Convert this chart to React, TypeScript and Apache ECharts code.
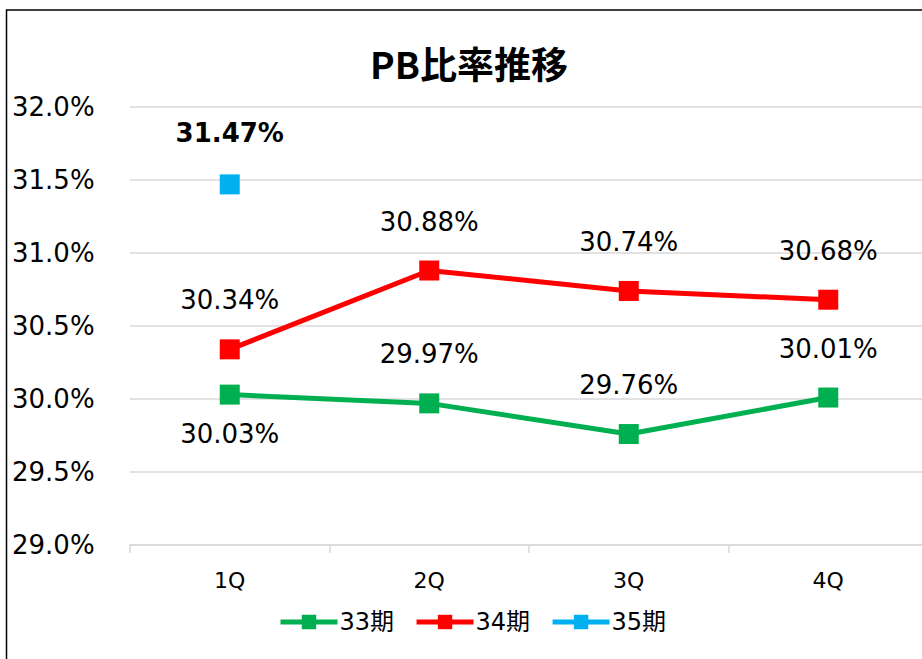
import React, { useEffect, useRef } from "react";
import * as echarts from "echarts";

const categories = ["1Q", "2Q", "3Q", "4Q"];
const series33 = [30.03, 29.97, 29.76, 30.01];
const series34 = [30.34, 30.88, 30.74, 30.68];
const series35: (number | null)[] = [31.47, null, null, null];
const seriesNames = ["33期", "34期", "35期"];
const colors = ["#00B050", "#FF0000", "#00B0F0"];
const yMin = 29;
const yMax = 32;
const yInterval = 0.5;

const FONT = "Verdana, 'DejaVu Sans', sans-serif";

export default function App() {
  const ref = useRef<HTMLDivElement>(null);
  useEffect(() => {
    if (!ref.current) return;
    const chart = echarts.init(ref.current, undefined, { renderer: "svg" });
    const labelBase = {
      show: true,
      color: "#000",
      fontSize: 26,
      fontFamily: FONT,
      formatter: (p: any) => p.value.toFixed(2) + "%",
    };
    chart.setOption({
      animation: false,
      backgroundColor: "#fff",
      title: {
        text: "PB比率推移",
        left: 464,
        textAlign: "center",
        top: 39,
        textStyle: {
          fontSize: 37,
          fontWeight: "bold",
          color: "#000",
          fontFamily: "'Noto Sans CJK JP', sans-serif",
        },
      },
      legend: {
        data: seriesNames,
        left: 273,
        top: 605,
        itemWidth: 57,
        itemHeight: 18,
        itemGap: 20,
        lineStyle: { width: 5 },
        textStyle: { fontSize: 24, color: "#000", fontFamily: "'DejaVu Sans', 'Noto Sans CJK JP', sans-serif", padding: [0, 0, 0, -3] },
      },
      graphic: [
        {
          type: "rect",
          shape: { x: 6.5, y: 10, width: 1000, height: 1000 },
          style: { fill: "none", stroke: "#000", lineWidth: 1.5 },
          silent: true,
        },
      ],
      grid: { left: 130, right: 12, top: 107, bottom: 114 },
      xAxis: {
        type: "category",
        data: categories,
        boundaryGap: true,
        axisLine: { lineStyle: { color: "#d9d9d9", width: 1.5 } },
        axisTick: { show: true, length: 8, lineStyle: { color: "#d9d9d9", width: 1.5 } },
        axisLabel: { fontSize: 22, color: "#000", fontFamily: FONT, margin: 24 },
      },
      yAxis: {
        type: "value",
        min: yMin,
        max: yMax,
        interval: yInterval,
        axisLine: { show: false },
        axisTick: { show: false },
        splitLine: { lineStyle: { color: "#d9d9d9", width: 1.5 } },
        axisLabel: {
          fontSize: 26,
          color: "#000",
          fontFamily: FONT,
          align: "left",
          margin: 118,
          padding: [0, 0, 6, 0],
          formatter: (v: number) => v.toFixed(1) + "%",
        },
      },
      series: [
        {
          name: seriesNames[0],
          type: "line",
          data: series33.map((v, i) =>
            i === 0
              ? { value: v, label: { position: "bottom", distance: 16 } }
              : { value: v }
          ),
          symbol: "rect",
          symbolSize: 20,
          lineStyle: { width: 5, color: colors[0] },
          itemStyle: { color: colors[0] },
          label: { ...labelBase, position: "top", distance: 26 },
        },
        {
          name: seriesNames[1],
          type: "line",
          data: series34,
          symbol: "rect",
          symbolSize: 20,
          lineStyle: { width: 5, color: colors[1] },
          itemStyle: { color: colors[1] },
          label: { ...labelBase, position: "top", distance: 26 },
        },
        {
          name: seriesNames[2],
          type: "line",
          data: series35,
          symbol: "rect",
          symbolSize: 20,
          lineStyle: { width: 5, color: colors[2] },
          itemStyle: { color: colors[2] },
          label: { ...labelBase, fontWeight: "bold", position: "top", distance: 28 },
        },
      ],
    });
    return () => chart.dispose();
  }, []);
  return (
    <div style={{ position: "absolute", left: 0, top: 0, width: 922, height: 659, overflow: "hidden" }}>
      <div ref={ref} style={{ position: "absolute", left: 0, top: 0, width: 940, height: 659 }} />
    </div>
  );
}
